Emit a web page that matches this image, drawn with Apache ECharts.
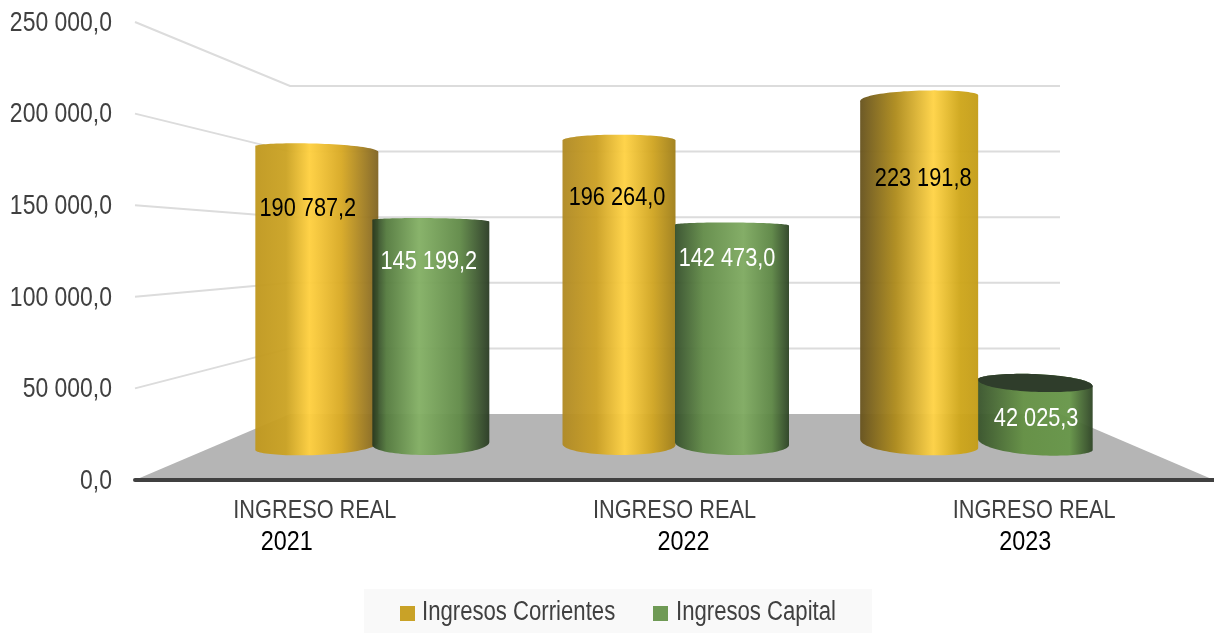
<!DOCTYPE html>
<html>
<head>
<meta charset="utf-8">
<style>
  html, body { margin: 0; padding: 0; background: #fff; }
  #main { width: 1214px; height: 633px; }
</style>
</head>
<body>
<div id="main"></div>
<script src="https://cdn.jsdelivr.net/npm/echarts@6/dist/echarts.min.js"></script>
<script>
const categories = ['INGRESO REAL', 'INGRESO REAL', 'INGRESO REAL'];
const years = ['2021', '2022', '2023'];
const ingresosCorrientes = [190787.2, 196264.0, 223191.8];
const ingresosCapital = [145199.2, 142473.0, 42025.3];
const yTicks = [0, 50000, 100000, 150000, 200000, 250000];
const seriesNames = ['Ingresos Corrientes', 'Ingresos Capital'];

// no Arial Narrow here, so squeeze Liberation Sans to the same width
const FONT = '"Liberation Sans", sans-serif';
const NARROW = 0.82;

// back wall of the 3d box, in pixels
const backLeft = 290, backRight = 1060, backBase = 414, backTop = 86;
const frontBase = 480, frontTop = 22;
const eyeLevel = 222;

function backY(frontY) {
    return backBase - (frontBase - frontY) * (backBase - backTop) / (frontBase - frontTop);
}

function fmt(v) {
    const s = v.toFixed(1).split('.');
    return s[0].replace(/\B(?=(\d{3})+$)/g, ' ') + ',' + s[1];
}

function grad(stops) {
    return {
        type: 'linear', x: 0, y: 0, x2: 1, y2: 0,
        colorStops: stops.map(s => ({ offset: s[0], color: s[1] }))
    };
}

function narrowText(x, y, text, size, color, align, z2) {
    return {
        type: 'text',
        x: x,
        y: y,
        scaleX: NARROW,
        z2: z2 || 10,
        style: {
            x: 0,
            y: 0,
            text: text,
            fill: color,
            font: size + 'px ' + FONT,
            textAlign: align,
            textVerticalAlign: 'middle'
        }
    };
}

// each cylinder was shaded differently in the picture
const looks = {
    yellow: {
        dx: [-57, -56.5, -58], rx: [61.5, 56.5, 59],
        topTilt: [6, 0, -6], baseL: [450, 444, 439], baseR: [442, 445, 448],
        labelDx: [-9, -2, 4], labelDy: [62, 59, 83], labelColor: '#000', z: [5, 5, 7],
        fill: [
            [[0, '#c0981f'], [0.25, '#cba324'], [0.44, '#ffd040'], [0.7, '#d8a924'], [1, '#806424']],
            [[0, '#b08a24'], [0.3, '#cba024'], [0.55, '#ffd244'], [0.8, '#d0a522'], [1, '#a07f1a']],
            [[0, '#67531e'], [0.3, '#ae8b1c'], [0.62, '#ffd346'], [0.85, '#cea61a'], [1, '#c49d18']]
        ]
    },
    green: {
        dx: [57, 56.5, 58], rx: [58.5, 57, 57.5],
        topTilt: [2, 1, 7], baseL: [445, 442, 438], baseR: [442, 445, 450],
        labelDx: [-2, -5, 1], labelDy: [43, 36, 38], labelColor: '#fff', z: [6, 6, 6],
        fill: [
            [[0, '#273820'], [0.12, '#557b3f'], [0.4, '#84b065'], [0.75, '#618a48'], [1, '#2b3c25']],
            [[0, '#36502c'], [0.25, '#638c49'], [0.6, '#7faa61'], [0.85, '#5d8645'], [1, '#2e4426']],
            [[0, '#39542c'], [0.4, '#649044'], [0.8, '#679649'], [1, '#304627']]
        ]
    }
};

function arc(cx, rx, yL, yR, ry, steps, reverse) {
    // half ellipse from left to right, ry > 0 bulges upward
    const pts = [];
    for (let i = 0; i <= steps; i++) {
        const t = i / steps;
        const a = Math.PI * t;
        pts.push([cx - rx * Math.cos(a), yL + (yR - yL) * t - ry * Math.sin(a)]);
    }
    return reverse ? pts.reverse() : pts;
}

function cylinder(look) {
    return function (params, api) {
        const i = api.value(0);
        const val = api.value(1);
        const top = api.coord([i, val]);
        const cx = top[0] + look.dx[i];
        const rx = look.rx[i];
        const topL = top[1] - look.topTilt[i] / 2 + 2;
        const topR = top[1] + look.topTilt[i] / 2 + 2;
        const topRy = 2.5 + Math.abs(top[1] - eyeLevel) * 0.04;
        const baseL = look.baseL[i], baseR = look.baseR[i];
        const baseRy = 455 - (baseL + baseR) / 2;
        const z2 = look.z[i];

        const children = [{
            type: 'polygon',
            z2: z2,
            shape: {
                points: arc(cx, rx, topL, topR, topRy, 48)
                    .concat(arc(cx, rx, baseL, baseR, -baseRy, 48, true))
            },
            style: { fill: grad(look.fill[i]), opacity: 0.96 }
        }];

        // top face only shows when the cylinder ends below eye level
        if (top[1] > eyeLevel + 50) {
            children.push({
                type: 'polygon',
                z2: z2,
                shape: {
                    points: arc(cx, rx, topL, topR, topRy, 48)
                        .concat(arc(cx, rx, topL, topR, -topRy, 48, true))
                },
                style: { fill: '#2f3d2b' }
            });
        }

        children.push(narrowText(cx + look.labelDx[i], top[1] + look.labelDy[i], fmt(val), 26.5, look.labelColor, 'center'));
        return { type: 'group', children: children };
    };
}

function walls(params, api) {
    const tick = api.value(1);
    const y = api.coord([0, tick])[1];
    const left = params.coordSys.x;
    const right = left + params.coordSys.width;
    const children = [];
    if (tick === 0) {
        children.push({
            type: 'polygon',
            shape: { points: [[left, y], [backLeft, backY(y)], [backRight, backY(y)], [right, y]] },
            style: { fill: '#b5b5b5' }
        });
    } else {
        children.push({
            type: 'polyline',
            shape: { points: [[left, y], [backLeft, backY(y)], [backRight, backY(y)]] },
            style: { fill: 'none', stroke: '#dcdcdc', lineWidth: 2 }
        });
    }
    // y axis tick label
    children.push(narrowText(left - 23, y + 1, fmt(tick), 28, '#404040', 'right'));
    return { type: 'group', children: children };
}

function xLabels(params, api) {
    const i = api.value(0);
    const x = api.coord([i, 0])[0];
    const yearShift = [-28, 9, -9];
    return {
        type: 'group',
        children: [
            narrowText(x, 511, categories[i], 26.5, '#404040', 'center'),
            narrowText(x + yearShift[i], 542, years[i], 28.5, '#000', 'center')
        ]
    };
}

const chart = echarts.init(document.getElementById('main'));

chart.setOption({
    backgroundColor: '#fff',
    animation: false,
    // legend drawn by hand because the native one cannot squeeze its text
    graphic: [
        { type: 'rect', shape: { x: 364, y: 589, width: 508, height: 44 }, style: { fill: '#f9f9f9' } },
        { type: 'rect', shape: { x: 400, y: 606, width: 15, height: 15 }, style: { fill: '#c9a227' } },
        { type: 'rect', shape: { x: 653, y: 606, width: 15, height: 15 }, style: { fill: '#6f9a55' } },
        {
            type: 'text', x: 422, y: 613, scaleX: NARROW,
            style: { text: seriesNames[0], fill: '#404040', font: '27px ' + FONT, textVerticalAlign: 'middle' }
        },
        {
            type: 'text', x: 676, y: 613, scaleX: NARROW,
            style: { text: seriesNames[1], fill: '#404040', font: '27px ' + FONT, textVerticalAlign: 'middle' }
        }
    ],
    grid: [
        { left: 135, right: 0, top: frontTop, height: frontBase - frontTop, outerBoundsMode: 'none' },
        { left: 223, width: 905, top: 54, height: 393, outerBoundsMode: 'none' }
    ],
    xAxis: [
        {
            type: 'category',
            gridIndex: 0,
            data: categories.map((c, i) => i),
            z: 4,
            axisTick: { show: false },
            axisLine: { lineStyle: { color: '#404040', width: 4, cap: 'round' } },
            axisLabel: { show: false }
        },
        { type: 'category', gridIndex: 1, data: years, show: false }
    ],
    yAxis: [
        {
            type: 'value',
            gridIndex: 0,
            min: 0,
            max: 250000,
            interval: 50000,
            splitLine: { show: false },
            axisLine: { show: false },
            axisTick: { show: false },
            axisLabel: { show: false }
        },
        { type: 'value', gridIndex: 1, min: 0, max: 250000, show: false }
    ],
    series: [
        {
            name: 'walls',
            type: 'custom',
            xAxisIndex: 0,
            yAxisIndex: 0,
            z: 1,
            silent: true,
            encode: { x: 0, y: 1 },
            data: yTicks.map(t => [0, t]),
            renderItem: walls
        },
        {
            name: 'labels',
            type: 'custom',
            xAxisIndex: 0,
            yAxisIndex: 0,
            z: 1,
            silent: true,
            encode: { x: 0, y: 1 },
            data: categories.map((c, i) => [i, 0]),
            renderItem: xLabels
        },
        {
            name: seriesNames[0],
            type: 'custom',
            xAxisIndex: 1,
            yAxisIndex: 1,
            z: 3,
            encode: { x: 0, y: 1 },
            data: ingresosCorrientes.map((v, i) => [i, v]),
            renderItem: cylinder(looks.yellow)
        },
        {
            name: seriesNames[1],
            type: 'custom',
            xAxisIndex: 1,
            yAxisIndex: 1,
            z: 3,
            encode: { x: 0, y: 1 },
            data: ingresosCapital.map((v, i) => [i, v]),
            renderItem: cylinder(looks.green)
        }
    ]
});
</script>
</body>
</html>
